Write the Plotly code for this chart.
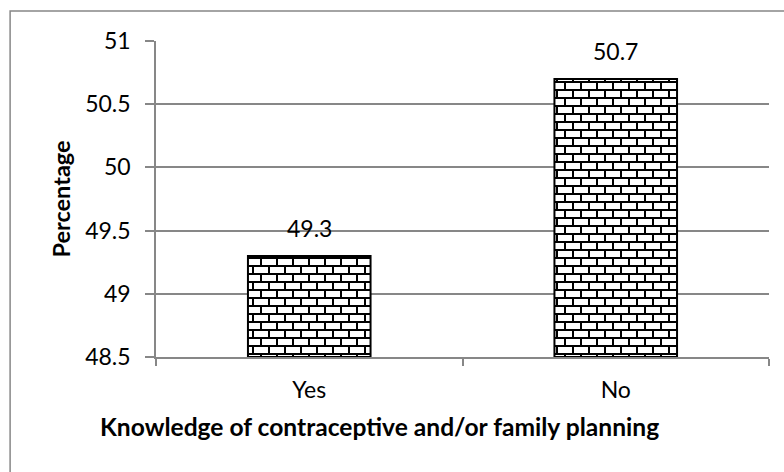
import plotly.graph_objects as go

categories = ["Yes", "No"]
percentages = [49.3, 50.7]
y_ticks = [48.5, 49, 49.5, 50, 50.5, 51]
y_tick_labels = ["48.5", "49", "49.5", "50", "50.5", "51"]
x_title = "Knowledge of contraceptive and/or family planning"
y_title = "Percentage"

FONT = "Lato"
GRID = "#878787"
BASE = 48.5

# brick tile (16x16): two 8px courses, vertical joints offset by half a brick;
# drawn as thin filled strips so the pattern fill shows them
BRICK = (
    "M0,0H16V2H0Z"
    "M0,8H16V10H0Z"
    "M0,0H2V8H0Z"
    "M8,8H10V16H8Z"
)

fig = go.Figure(
    go.Bar(
        x=categories,
        y=[v - BASE for v in percentages],
        base=BASE,
        width=0.4,
        marker=dict(
            color="white",
            line=dict(color="black", width=2),
            pattern=dict(path=BRICK, size=16, fgcolor="black", bgcolor="white",
                         fgopacity=1, solidity=0.2),
        ),
    )
)

# value labels sit just above each bar top
annotations = [
    dict(x=c, y=v, text=f"{v}", showarrow=False, yanchor="bottom", yshift=12,
         font=dict(family=FONT, size=23, color="black"))
    for c, v in zip(categories, percentages)
]
# category-axis title, set a little left of the plot centre
annotations.append(
    dict(x=0.365, y=-0.22, xref="paper", yref="paper", text=f"<b>{x_title}</b>",
         showarrow=False, xanchor="center", yanchor="middle",
         font=dict(family=FONT, size=24.6, color="black"))
)

fig.update_layout(
    width=784,
    height=472,
    margin=dict(l=156, r=15, t=41, b=115),
    paper_bgcolor="white",
    plot_bgcolor="white",
    showlegend=False,
    font=dict(family=FONT, size=23, color="black"),
    annotations=annotations,
    shapes=[
        dict(type="rect", xref="paper", yref="paper",
             x0=-0.238, x1=1.2, y0=-0.5, y1=1.095,
             line=dict(color=GRID, width=1.5), fillcolor="rgba(0,0,0,0)", layer="below"),
    ],
)

fig.update_xaxes(
    type="category",
    showline=True, linecolor=GRID, linewidth=1.5,
    ticks="outside", tickson="boundaries", ticklen=7, tickcolor=GRID, tickwidth=1.5,
    ticklabelstandoff=12,
    tickfont=dict(family=FONT, size=23),
    showgrid=False,
)
fig.update_yaxes(
    range=[48.5, 51],
    tickvals=y_ticks, ticktext=y_tick_labels,
    showline=True, linecolor=GRID, linewidth=1.5,
    ticks="outside", ticklen=9, tickcolor=GRID, tickwidth=1.5,
    ticklabelstandoff=10,
    showgrid=True, gridcolor=GRID, gridwidth=1.5,
    tickfont=dict(family=FONT, size=23),
    title=dict(text=f"<b>{y_title}</b>", font=dict(family=FONT, size=23.5), standoff=8),
    zeroline=False,
)

fig.write_html("out.html")
